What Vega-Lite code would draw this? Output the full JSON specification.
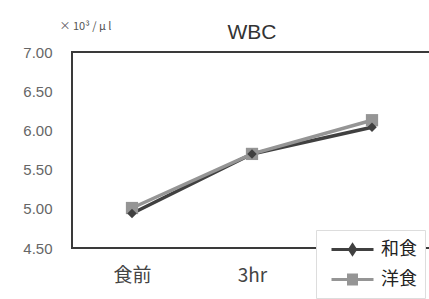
{
  "$schema": "https://vega.github.io/schema/vega-lite/v6.json",
  "autosize": "none",
  "width": 360,
  "height": 196,
  "padding": {"left": 72, "top": 52, "right": 0, "bottom": 51},
  "background": "white",
  "config": {
    "view": {"stroke": "#3a3a3a", "strokeWidth": 2},
    "font": "Liberation Sans"
  },
  "title": {"text": "WBC", "fontSize": 21, "font": "Liberation Sans", "fontWeight": "normal", "color": "#333", "offset": 0, "dy": 23, "anchor": "middle"},
  "data": {"values": [
    {"time": "食前", "series": "和食", "value": 4.94},
    {"time": "3hr", "series": "和食", "value": 5.70},
    {"time": "6hr", "series": "和食", "value": 6.04},
    {"time": "食前", "series": "洋食", "value": 5.01},
    {"time": "3hr", "series": "洋食", "value": 5.70},
    {"time": "6hr", "series": "洋食", "value": 6.13}
  ]},
  "encoding": {
    "x": {"field": "time", "type": "nominal", "sort": ["食前", "3hr", "6hr"],
      "axis": {"title": null, "labelAngle": 0, "ticks": false, "domain": false, "labelFont": "Noto Sans CJK JP", "labelFontSize": 19, "labelColor": "#444", "labelPadding": 18,
        "labelExpr": "datum.value === '6hr' ? '' : datum.value"}},
    "y": {"field": "value", "type": "quantitative",
      "scale": {"domain": [4.5, 7.0], "nice": false},
      "axis": {"title": "× 10³ / μ l", "titleAngle": 0, "titleAlign": "left", "titleX": -13, "titleY": -21, "titleFontSize": 11, "titleFontWeight": "normal", "titleColor": "#555", "titleFont": "Noto Sans CJK JP",
        "values": [4.5, 5, 5.5, 6, 6.5, 7], "format": ".2f", "labelFontSize": 15, "labelColor": "#666", "labelPadding": 20, "domain": false, "grid": false, "ticks": false}},
    "color": {"field": "series", "type": "nominal",
      "scale": {"domain": ["和食", "洋食"], "range": ["#404040", "#959595"]}}
  },
  "layer": [
    {"mark": {"type": "line", "strokeWidth": 3.5},
     "encoding": {
       "color": {"field": "series", "type": "nominal",
         "scale": {"domain": ["和食", "洋食"], "range": ["#404040", "#959595"]},
         "legend": {"title": null, "orient": "none", "legendX": 244, "legendY": 178,
           "fillColor": "white", "strokeColor": "#ddd", "padding": 8,
           "symbolSize": 400, "symbolStrokeWidth": 3, "rowPadding": 8,
           "labelFont": "Noto Sans CJK JP", "labelFontSize": 18, "labelColor": "#222", "labelOffset": 17,
           "symbolOffset": 17,
           "encode": {"symbols": {"update": {
             "shape": {"signal": "datum.value === '和食' ? 'M-2.1,0H2.1M-0.3,0L0,-0.45L0.3,0L0,0.45Z' : 'M-2.1,0H2.1M-0.4,-0.45H0.4V0.45H-0.4Z'"},
             "fill": {"signal": "datum.value === '和食' ? '#404040' : '#959595'"},
             "stroke": {"signal": "datum.value === '和食' ? '#404040' : '#959595'"},
             "strokeWidth": {"value": 3}
           }}}}}
     }},
    {"transform": [{"filter": "datum.series === '洋食'"}],
     "mark": {"type": "point", "shape": "square", "filled": true, "size": 150, "opacity": 1}},
    {"transform": [{"filter": "datum.series === '和食'"}],
     "mark": {"type": "point", "shape": "diamond", "filled": true, "size": 90, "opacity": 1}}
  ]
}
